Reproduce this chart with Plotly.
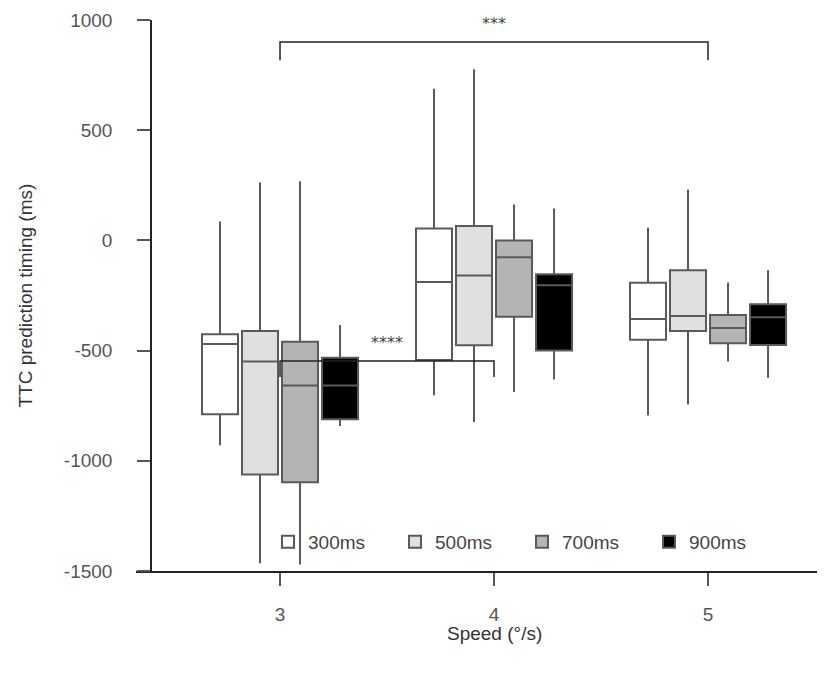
import plotly.graph_objects as go

speeds = [3, 4, 5]
durations = ["300ms", "500ms", "700ms", "900ms"]
fills = ["#ffffff", "#dfe0e0", "#b3b4b4", "#000000"]
y_tickvals = [-1500, -1000, -500, 0, 500, 1000]
y_ticktext = ["-1500", "-1000", "-500", "0", "500", "1000"]

# per duration: values at speeds 3, 4, 5
upper = {
    "300ms": [86, 688, 57],
    "500ms": [263, 776, 231],
    "700ms": [268, 163, -191],
    "900ms": [-384, 145, -135],
}
q3 = {
    "300ms": [-426, 54, -192],
    "500ms": [-411, 65, -136],
    "700ms": [-460, 0, -339],
    "900ms": [-532, -154, -290],
}
median = {
    "300ms": [-470, -189, -357],
    "500ms": [-550, -159, -343],
    "700ms": [-658, -77, -398],
    "900ms": [-658, -204, -349],
}
q1 = {
    "300ms": [-789, -543, -451],
    "500ms": [-1062, -476, -411],
    "700ms": [-1097, -346, -467],
    "900ms": [-812, -499, -475],
}
lower = {
    "300ms": [-929, -703, -794],
    "500ms": [-1465, -824, -744],
    "700ms": [-1470, -688, -550],
    "900ms": [-842, -631, -623],
}

# significance brackets: (x start, x end, bracket y, leg end y, label, label y)
brackets = [
    (3, 5, 900, 817, "***", 985),
    (3, 4, -547, -620, "****", -465),
]

W, H = 825, 678
OFF = 8  # page body margin


def px(x):
    return (x - OFF) / W


def py(y):
    return 1 - (y - OFF) / H


fig = go.Figure()
for d, c in zip(durations, fills):
    fig.add_trace(go.Box(
        name=d,
        x=speeds,
        q1=q1[d], median=median[d], q3=q3[d],
        lowerfence=lower[d], upperfence=upper[d],
        offsetgroup=d,
        fillcolor=c,
        line=dict(color="#5a5a5a", width=2),
        whiskerwidth=0,
        boxpoints=False,
        hoverinfo="skip",
    ))

for x0, x1, yb, yl, lab, ly in brackets:
    fig.add_shape(type="path",
                  path=f"M {x0},{yl} L {x0},{yb} L {x1},{yb} L {x1},{yl}",
                  line=dict(color="#222222", width=1.5), xref="x", yref="y")
    fig.add_annotation(x=(x0 + x1) / 2, y=ly, text=lab, showarrow=False,
                       font=dict(size=16, color="#444444", family="DejaVu Sans"),
                       xref="x", yref="y")

fig.add_annotation(x=4, y=py(633), xref="x", yref="paper", text="Speed (°/s)",
                   xanchor="center", yanchor="middle",
                   showarrow=False, font=dict(size=19, color="#333333"))
fig.add_annotation(x=px(25), y=(py(571) + py(20)) / 2, xref="paper", yref="paper",
                   text="TTC prediction timing (ms)", textangle=-90,
                   xanchor="center", yanchor="middle",
                   showarrow=False, font=dict(size=19, color="#333333"))

fig.update_layout(
    width=W, height=H,
    margin=dict(l=0, r=0, t=0, b=0, autoexpand=False),
    paper_bgcolor="white", plot_bgcolor="white",
    font=dict(family="Liberation Sans, Arial, sans-serif", size=19, color="#555555"),
    boxmode="group", boxgap=0.252, boxgroupgap=0.1,
    showlegend=True,
    legend=dict(orientation="h", x=px(268), y=py(542), xanchor="left", yanchor="middle",
                bgcolor="rgba(0,0,0,0)", font=dict(size=19, color="#444444"),
                entrywidth=82, entrywidthmode="pixels", itemsizing="constant"),
    xaxis=dict(domain=[px(136), 1], range=[2.327, 2.327 + (825 + OFF - 136) / 214],
               tickvals=speeds,
               ticktext=[str(s) for s in speeds], showline=True, linecolor="#222222",
               linewidth=1.5, ticks="outside", ticklen=13, tickcolor="#555555",
               tickwidth=1.5, showgrid=False, zeroline=False, anchor="y",
               automargin=False,
               ticklabelstandoff=12, tickfont=dict(size=19, color="#555555")),
    yaxis=dict(domain=[py(571), py(20)], range=[-1500, 1000],
               tickvals=y_tickvals, ticktext=y_ticktext,
               showline=True, linecolor="#222222", linewidth=1.5,
               ticks="outside", ticklen=13, tickcolor="#555555", tickwidth=1.5,
               showgrid=False, zeroline=False, anchor="free", position=px(151),
               automargin=False,
               ticklabelstandoff=21, tickfont=dict(size=19, color="#555555")),
)

fig.write_html("out.html")
